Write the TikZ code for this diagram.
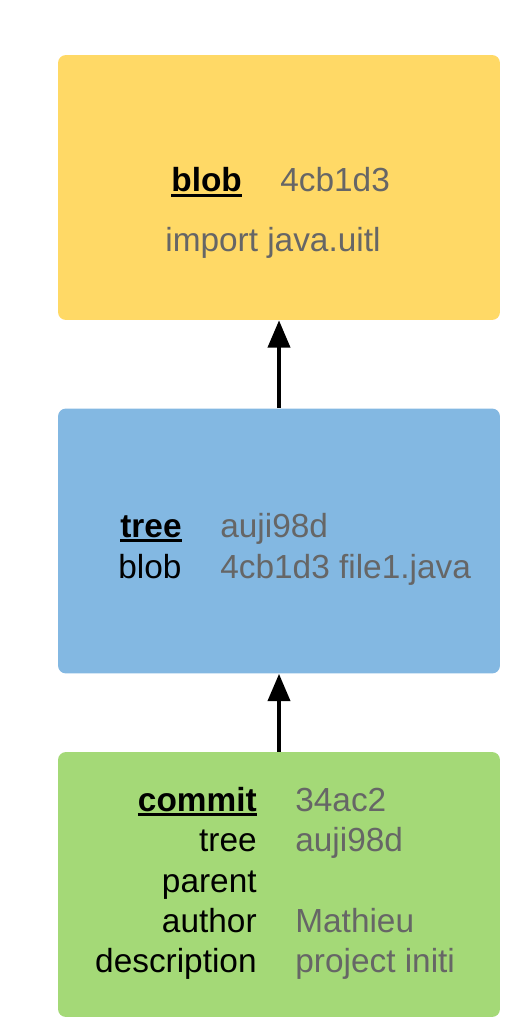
\documentclass[tikz,border=0pt]{standalone}
\usepackage{fontspec}
\setmainfont{Liberation Sans}
\usetikzlibrary{arrows.meta,positioning}

\definecolor{blobyellow}{HTML}{FFD966}
\definecolor{treeblue}{HTML}{83B8E2}
\definecolor{commitgreen}{HTML}{A4D977}
\definecolor{hashgray}{HTML}{666666}

\newcommand{\headword}[1]{\setbox0\hbox{\bfseries #1}\rlap{\rule[-2.8pt]{\wd0}{1.5pt}}\box0}

\tikzset{
    objbox/.style={rounded corners=4.5pt, minimum width=8.84cm, minimum height=5.3cm, inner sep=0pt},
    key/.style={inner sep=0pt, font=\fontsize{19}{23}\selectfont, text=black},
    val/.style={inner sep=0pt, font=\fontsize{19}{23}\selectfont, text=hashgray},
    link/.style={line width=2.2pt, -{Triangle[length=15.5pt,width=12.5pt]}},
}

\begin{document}
\begin{tikzpicture}[x=0.02cm, y=-0.02cm]
    \useasboundingbox (0,0) rectangle (508,1033);

    % the three objects
    \node [objbox, fill=blobyellow] (blob) at (279,187.5) {};
    \node [objbox, fill=treeblue] (tree) at (279,541) {};
    \node [objbox, fill=commitgreen] (commit) at (279,884.5) {};

    % blob
    \node [key, anchor=base west] (blobkey) at (171,192) {\headword{blob}};
    \node [val, anchor=base west] (blobhash) at (280,192) {4cb1d3};
    \node [val, anchor=base west] (blobtext) at (165,252) {import java.uitl};

    % tree
    \node [key, anchor=base west] (treekey) at (120,537) {\headword{tree}};
    \node [val, anchor=base west] (treehash) at (220,537) {auji98d};
    \node [key, anchor=base west] (treeblob) at (118,578) {blob};
    \node [val, anchor=base west] (treefile) at (220,578) {4cb1d3 file1.java};

    % commit
    \node [key, anchor=base east] (commitkey) at (257,811) {\headword{commit}};
    \node [val, anchor=base west] (commithash) at (295,811) {34ac2};
    \node [key, anchor=base east] (committree) at (257,851) {tree};
    \node [val, anchor=base west] (committreehash) at (295,851) {auji98d};
    \node [key, anchor=base east] (commitparent) at (257,892) {parent};
    \node [key, anchor=base east] (commitauthor) at (257,932) {author};
    \node [val, anchor=base west] (commitname) at (295,932) {Mathieu};
    \node [key, anchor=base east] (commitdesc) at (257,972) {description};
    \node [val, anchor=base west] (commitmsg) at (295,972) {project initi};

    \draw [link] (tree.north) -- (blob.south);
    \draw [link] (commit.north) -- (tree.south);
\end{tikzpicture}
\end{document}
